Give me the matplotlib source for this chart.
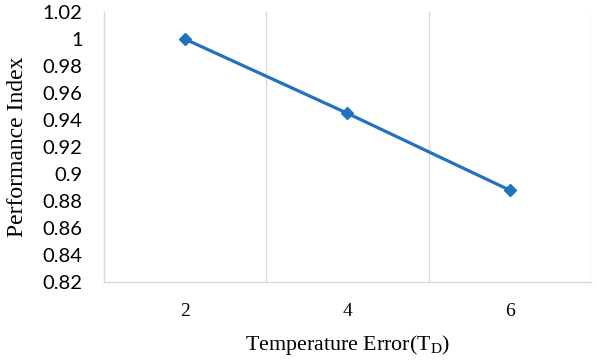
import matplotlib
matplotlib.use("Agg")
import matplotlib.pyplot as plt

# data
categories = ["2", "4", "6"]
performance = [1.0, 0.945, 0.888]
y_ticks = [0.82, 0.84, 0.86, 0.88, 0.9, 0.92, 0.94, 0.96, 0.98, 1.0, 1.02]
y_tick_labels = ["0.82", "0.84", "0.86", "0.88", "0.9", "0.92", "0.94",
                 "0.96", "0.98", "1", "1.02"]

grid_color = "#d9d9d9"
line_color = "#2271c1"

fig = plt.figure(figsize=(5.97, 3.63), dpi=100)
ax = fig.add_axes([0.1734, 0.2231, 0.8166, 0.7439])

x = list(range(len(categories)))
ax.plot(x, performance, color=line_color, linewidth=2.3, marker="D",
        markersize=6.5, zorder=3)

ax.set_xlim(-0.5, len(categories) - 0.5)
ax.set_ylim(0.82, 1.02)

# vertical gridlines sit between categories (Excel style)
for b in range(len(categories)):
    ax.axvline(b + 0.5, color=grid_color, linewidth=1.0, zorder=1)

for side in ["top", "right"]:
    ax.spines[side].set_visible(False)
for side in ["left", "bottom"]:
    ax.spines[side].set_color(grid_color)
    ax.spines[side].set_linewidth(1.0)

ax.set_xticks(x)
ax.set_xticklabels(categories, family="Liberation Serif", fontsize=14)
ax.set_yticks(y_ticks)
ax.set_yticklabels(y_tick_labels, family="Lato", fontsize=14.5)
ax.tick_params(axis="both", length=0)
ax.tick_params(axis="x", pad=15)
ax.tick_params(axis="y", pad=15)

ax.set_ylabel("Performance Index", family="Liberation Serif", fontsize=17)
ax.yaxis.set_label_coords(-0.155, 0.5)
ax.set_xlabel("Temperature Error(T$_\\mathregular{D}$)", family="Liberation Serif",
              fontsize=15.8)
ax.xaxis.set_label_coords(0.5, -0.19)

fig.savefig("out.png", dpi=100)
